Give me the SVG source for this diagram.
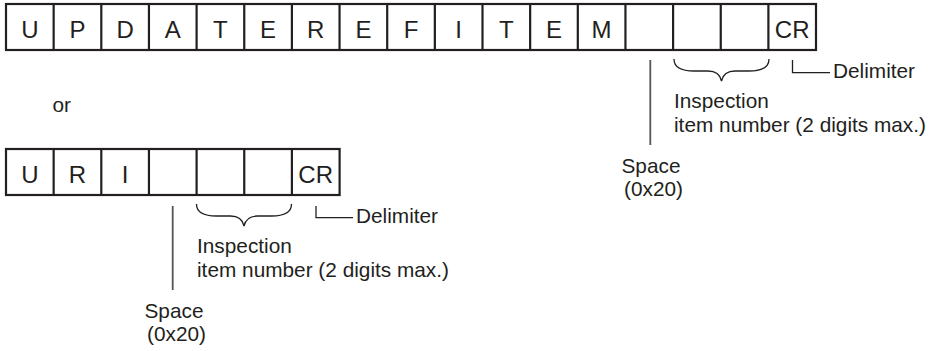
<svg xmlns="http://www.w3.org/2000/svg" width="933" height="351" viewBox="0 0 933 351">
<style>
.cell{fill:#fff;stroke:#231f20;stroke-width:2.2}
.ch{font-family:"Liberation Sans",Arial,sans-serif;font-size:24px;fill:#231f20;text-anchor:middle}
.lbl{font-family:"Liberation Sans",Arial,sans-serif;font-size:20.8px;fill:#231f20}
.ln{fill:none;stroke:#231f20;stroke-width:1.3}
.sp{fill:none;stroke:#555;stroke-width:1.8}
</style>
<rect width="933" height="351" fill="#fff"/>
<g id="row1">
<rect class="cell" x="6" y="4" width="810" height="46"/>
<path class="ln" style="stroke-width:2.2" d="M53.65,4V50M101.3,4V50M148.95,4V50M196.6,4V50M244.25,4V50M291.9,4V50M339.55,4V50M387.2,4V50M434.85,4V50M482.5,4V50M530.15,4V50M577.8,4V50M625.45,4V50M673.1,4V50M720.75,4V50M768.4,4V50"/>
<text class="ch" y="37.5"><tspan x="29.8">U</tspan><tspan x="77.5">P</tspan><tspan x="125.1">D</tspan><tspan x="172.8">A</tspan><tspan x="220.4">T</tspan><tspan x="268.1">E</tspan><tspan x="315.7">R</tspan><tspan x="363.4">E</tspan><tspan x="411">F</tspan><tspan x="458.7">I</tspan><tspan x="506.3">T</tspan><tspan x="554">E</tspan><tspan x="601.6">M</tspan><tspan x="792.2">CR</tspan></text>
</g>
<g id="row2">
<rect class="cell" x="6" y="149" width="333.6" height="46"/>
<path class="ln" style="stroke-width:2.2" d="M53.65,149V195M101.3,149V195M148.95,149V195M196.6,149V195M244.25,149V195M291.9,149V195"/>
<text class="ch" y="182.5"><tspan x="29.8">U</tspan><tspan x="77.5">R</tspan><tspan x="125.1">I</tspan><tspan x="315.7">CR</tspan></text>
</g>
<g id="or"><text class="lbl" x="52.5" y="111.5">or</text></g>
<g id="labels1">
<text class="lbl" x="833" y="78">Delimiter</text>
<text class="lbl" x="674" y="107.5">Inspection</text>
<text class="lbl" x="674" y="131.5">item number (2 digits max.)</text>
<text class="lbl" x="621.5" y="173.3">Space</text>
<text class="lbl" x="624" y="195.5">(0x20)</text>
</g>
<g id="labels2">
<text class="lbl" x="356" y="223">Delimiter</text>
<text class="lbl" x="197" y="252.5">Inspection</text>
<text class="lbl" x="197" y="276.5">item number (2 digits max.)</text>
<text class="lbl" x="144.5" y="318.3">Space</text>
<text class="lbl" x="147" y="340.5">(0x20)</text>
</g>
<g id="connectors">
<path class="sp" d="M650.3,60V145"/>
<path class="ln" d="M674,59C674,67 680,71 694,71L708,71C716,71 720,74 721.5,81C723,74 727,71 735,71L749,71C763,71 769,67 769,59"/>
<path class="ln" d="M792.5,60V72.7H830"/>
<path class="sp" d="M172.7,206V290"/>
<path class="ln" d="M196.5,204C196.5,212 202.5,216 216.5,216L230.5,216C238.5,216 242.5,219 244,226C245.5,219 249.5,216 257.5,216L271.5,216C285.5,216 291.5,212 291.5,204"/>
<path class="ln" d="M316,206V217.7H353"/>
</g>
</svg>
